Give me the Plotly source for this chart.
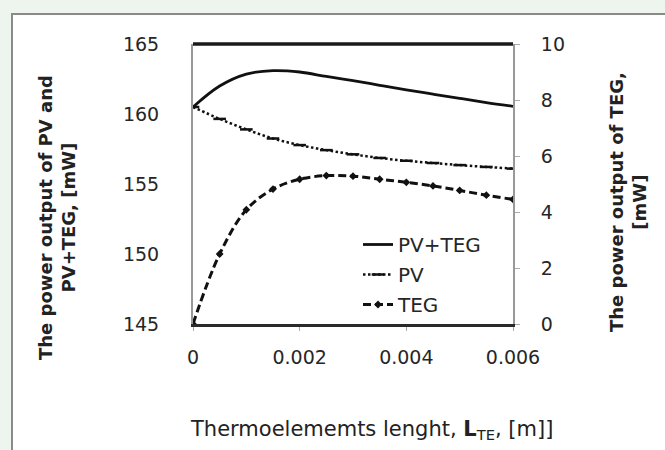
import plotly.graph_objects as go

# ---- data ----
length_m = [0, 0.0005, 0.001, 0.0015, 0.002, 0.0025, 0.003, 0.0035, 0.004, 0.0045, 0.005, 0.0055, 0.006]
pv_teg_mw = [160.5, 162.0, 162.85, 163.1, 163.0, 162.68, 162.38, 162.05, 161.72, 161.42, 161.12, 160.82, 160.55]
pv_mw = [160.5, 159.65, 158.9, 158.25, 157.78, 157.42, 157.12, 156.86, 156.66, 156.5, 156.35, 156.22, 156.1]
teg_mw = [0, 2.5, 4.08, 4.82, 5.17, 5.3, 5.28, 5.17, 5.06, 4.93, 4.77, 4.6, 4.45]

x_ticks = [0, 0.002, 0.004, 0.006]
x_tick_labels = ["0", "0.002", "0.004", "0.006"]
y_ticks = [145, 150, 155, 160, 165]
y2_ticks = [0, 2, 4, 6, 8, 10]

FONT = "DejaVu Sans"
INK = "#111111"
TXT = "#262626"

fig = go.Figure()
fig.add_trace(go.Scatter(
    x=length_m, y=pv_teg_mw, name="PV+TEG", mode="lines", legendgroup="a",
    line=dict(color=INK, width=2.8, shape="spline"),
))
fig.add_trace(go.Scatter(
    x=length_m, y=pv_mw, name="PV", mode="lines+markers", legendgroup="b",
    line=dict(color=INK, width=2.5, dash="2.5px,2.5px", shape="spline"),
    marker=dict(symbol="line-ew", size=9, line=dict(color=INK, width=2.5)),
))
fig.add_trace(go.Scatter(
    x=length_m, y=teg_mw, name="TEG", mode="lines+markers", legendgroup="c",
    yaxis="y2",
    line=dict(color=INK, width=3, dash="8px,4px", shape="spline"),
    marker=dict(symbol="diamond", size=6, color=INK),
))

W, H = 665, 450
L, R, T, B = 193, 513, 44, 324


def px(xp):
    return (xp - L) / (R - L)


def py(yp):
    return (B - yp) / (B - T)


fig.update_layout(
    width=W, height=H,
    margin=dict(l=L, r=W - R, t=T, b=H - B, pad=0),
    paper_bgcolor="#eef5ee",
    plot_bgcolor="white",
    font=dict(family=FONT, size=19, color=TXT),
    showlegend=True,
    legend=dict(
        x=px(358), y=py(225), xanchor="left", yanchor="top",
        bgcolor="rgba(0,0,0,0)", borderwidth=0,
        traceorder="grouped", tracegroupgap=1,
        font=dict(family=FONT, size=20, color=TXT),
    ),
    xaxis=dict(
        range=[0, 0.006], tickvals=x_ticks, ticktext=x_tick_labels,
        showgrid=False, zeroline=False,
        showline=True, linecolor="#2a2a2a", linewidth=3,
        ticks="outside", ticklen=4, tickcolor="#aaaaaa", tickwidth=1,
        ticklabelstandoff=10,
        tickfont=dict(family=FONT, size=19, color=TXT),
    ),
    yaxis=dict(
        range=[145, 165], tickvals=y_ticks,
        showgrid=False, zeroline=False,
        showline=True, linecolor="#999999", linewidth=2,
        ticks="", ticklabelstandoff=28,
        tickfont=dict(family=FONT, size=19, color=TXT),
    ),
    yaxis2=dict(
        range=[0, 10], tickvals=y2_ticks, overlaying="y", side="right",
        showgrid=False, zeroline=False,
        showline=True, linecolor="#999999", linewidth=2,
        ticks="outside", ticklen=5, tickcolor="#aaaaaa", tickwidth=1,
        ticklabelstandoff=17,
        tickfont=dict(family=FONT, size=19, color=TXT),
    ),
    shapes=[
        # outer frame of the figure
        dict(type="rect", xref="paper", yref="paper",
             x0=px(12), x1=px(700), y0=py(480), y1=py(14),
             line=dict(color="#8a8a8a", width=2), fillcolor="white", layer="below"),
        # thick top border of the plot area
        dict(type="line", xref="paper", yref="paper",
             x0=0, x1=1, y0=1, y1=1,
             line=dict(color="#1a1a1a", width=3.5)),
    ],
    annotations=[
        dict(text="<b>The power output of PV and<br>PV+TEG, [mW]</b>",
             xref="paper", yref="paper", x=px(57), y=py(218),
             xanchor="center", yanchor="middle", textangle=-90, showarrow=False,
             font=dict(family=FONT, size=18, color="#222222")),
        dict(text="<b>The power output of TEG,<br>[mW]</b>",
             xref="paper", yref="paper", x=px(628), y=py(202),
             xanchor="center", yanchor="middle", textangle=-90, showarrow=False,
             font=dict(family=FONT, size=18, color="#222222")),
        dict(text="Thermoelememts lenght, <b>L</b><sub>TE</sub>, [m]]",
             xref="paper", yref="paper", x=px(371), y=py(430),
             xanchor="center", yanchor="middle", showarrow=False,
             font=dict(family=FONT, size=21, color="#222222")),
    ],
)

fig.write_html("out.html")
